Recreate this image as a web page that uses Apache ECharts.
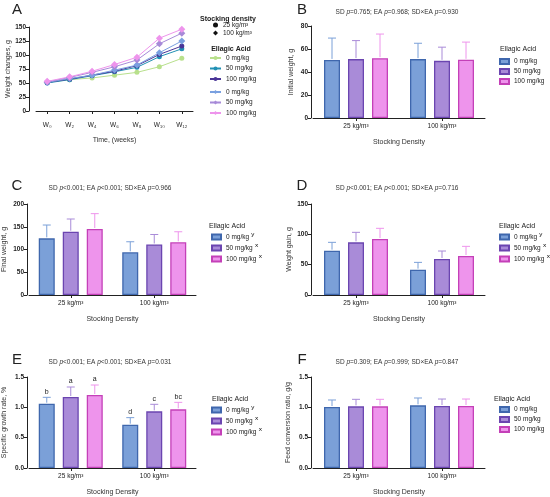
<!DOCTYPE html>
<html>
<head>
<meta charset="utf-8">
<script src="https://cdn.jsdelivr.net/npm/echarts@6.0.0/dist/echarts.min.js"></script>
<style>
  html, body { margin: 0; padding: 0; background: #fff; }
  #main { width: 550px; height: 497px; }
</style>
</head>
<body>
<div id="main"></div>
<script>
const FONT = 'Liberation Sans';

// panel A: weight over time
const weeks = ['W₀', 'W₂', 'W₄', 'W₆', 'W₈', 'W₁₀', 'W₁₂'];
const wt25_0 = [51, 56, 59, 64, 69, 79, 94];
const wt25_50 = [50, 56, 63, 70, 78, 97, 111];
const wt25_100 = [51, 57, 64, 71, 81, 101, 116];
const wt100_0 = [51, 58, 64, 73, 82, 104, 125];
const wt100_50 = [52, 60, 69, 79, 91, 120, 139];
const wt100_100 = [53, 61, 71, 83, 96, 130, 146];

// bar panels
const densities = ['25 kg/m³', '100 kg/m³'];
const doses = ['0 mg/kg', '50 mg/kg', '100 mg/kg'];
const doseSup = ['ʸ', 'ˣ', 'ˣ'];

const initMean0 = [50.5, 51.2], initMean50 = [51.2, 49.7], initMean100 = [52, 50.6];
const initSd0 = [19, 13.8], initSd50 = [16.1, 11.9], initSd100 = [21, 15.4];
const finalMean0 = [124.5, 93.8], finalMean50 = [139, 111], finalMean100 = [145, 115.8];
const finalSd0 = [29.3, 23.2], finalSd50 = [28, 22], finalSd100 = [33.8, 23.2];
const gainMean0 = [73.1, 41.8], gainMean50 = [86.8, 59.3], gainMean100 = [92.3, 64.3];
const gainSd0 = [13.7, 12], gainSd50 = [16.5, 13.2], gainSd100 = [17.6, 15.9];
const sgrMean0 = [1.06, 0.714], sgrMean50 = [1.17, 0.934], sgrMean100 = [1.203, 0.967];
const sgrSd0 = [0.105, 0.116], sgrSd50 = [0.165, 0.116], sgrSd100 = [0.165, 0.115];
const sgrLetters0 = ['b', 'd'], sgrLetters50 = ['a', 'c'], sgrLetters100 = ['a', 'bc'];
const fcrMean0 = [1.005, 1.033], fcrMean50 = [1.016, 1.022], fcrMean100 = [1.016, 1.022];
const fcrSd0 = [0.116, 0.121], fcrSd50 = [0.116, 0.115], fcrSd100 = [0.116, 0.115];

const fills = ['#7ba0d8', '#a98bd8', '#ee94ec'];
const borders = ['#3f67ad', '#6b45b0', '#c440b8'];
const lineCol25 = ['#b8e08c', '#2190b4', '#4a3597'];
const lineCol100 = ['#7aa0e0', '#a78ad8', '#ee94ec'];

const BAR_W = 16, BAR_STEP = 24;

const chart = echarts.init(document.getElementById('main'));

const grids = [], xAxes = [], yAxes = [], series = [], legends = [], graphics = [];

function txt(x, y, text, size, extra) {
  graphics.push({
    type: 'text', x: x, y: y, silent: true,
    style: Object.assign({
      text: text, fill: '#222', fontSize: size, fontFamily: FONT,
      align: 'center', textAlign: 'center', verticalAlign: 'middle', textVerticalAlign: 'middle',
      rich: { i: { fontStyle: 'italic', fontSize: size, fontFamily: FONT, fill: '#333' } }
    }, extra || {})
  });
}

function yAxisOf(gi, max, interval, name, gap, fmt, offset) {
  return {
    type: 'value', gridIndex: gi, min: 0, max: max, interval: interval, offset: offset || 0,
    name: name, nameLocation: 'middle', nameGap: gap,
    nameTextStyle: { fontSize: 7, color: '#333', fontFamily: FONT },
    axisLine: { show: true, lineStyle: { color: '#222', width: 1 } },
    axisTick: { show: true, length: 3, lineStyle: { color: '#222' } },
    splitLine: { show: false },
    axisLabel: { fontSize: 6.5, fontWeight: 'bold', color: '#222', margin: 3, fontFamily: FONT, formatter: fmt }
  };
}

function xAxisOf(gi, data, name, gap, offset) {
  return {
    type: 'category', gridIndex: gi, data: data, offset: offset || 0,
    name: name, nameLocation: 'middle', nameGap: gap,
    nameTextStyle: { fontSize: 7, color: '#333', fontFamily: FONT },
    axisLine: { show: true, lineStyle: { color: '#222', width: 1 } },
    axisTick: { show: true, alignWithLabel: true, length: 3, lineStyle: { color: '#222' } },
    axisLabel: { fontSize: 6.5, color: '#222', margin: 5, fontFamily: FONT, interval: 0 },
    splitLine: { show: false }
  };
}

// ---------- panel A ----------
grids.push({ left: 36, top: 27, width: 157, height: 84 });
xAxes.push(xAxisOf(0, weeks, 'Time, (weeks)', 20, 6));
yAxes.push(yAxisOf(0, 150, 25, 'Weight changes, g', 17, null, 7));

const lines25 = [wt25_0, wt25_50, wt25_100];
const lines100 = [wt100_0, wt100_50, wt100_100];
series.push({ type: 'line', name: '25 kg/m³', xAxisIndex: 0, yAxisIndex: 0, data: [], symbol: 'circle', itemStyle: { color: '#111' } });
series.push({ type: 'line', name: '100 kg/m³', xAxisIndex: 0, yAxisIndex: 0, data: [], symbol: 'diamond', itemStyle: { color: '#111' } });
lines25.forEach((d, k) => series.push({
  type: 'line', name: '25|' + doses[k], xAxisIndex: 0, yAxisIndex: 0, data: d,
  symbol: 'circle', symbolSize: 5, color: lineCol25[k], lineStyle: { width: 1 }
}));
lines100.forEach((d, k) => series.push({
  type: 'line', name: '100|' + doses[k], xAxisIndex: 0, yAxisIndex: 0, data: d,
  symbol: 'diamond', symbolSize: 7, color: lineCol100[k], lineStyle: { width: 1 }
}));

const legText = { fontSize: 6.5, color: '#222', fontFamily: FONT, lineHeight: 8 };
legends.push({
  orient: 'vertical', left: 213, top: 21, padding: 0, itemGap: 0, itemWidth: 5, itemHeight: 5,
  selectedMode: false, textStyle: legText,
  data: [{ name: '25 kg/m³', icon: 'circle' }, { name: '100 kg/m³', icon: 'diamond' }]
});
legends.push({
  orient: 'vertical', left: 209, top: 54, padding: 0, itemGap: 2.5, itemWidth: 11, itemHeight: 5,
  selectedMode: false, textStyle: legText, formatter: n => n.split('|')[1],
  data: doses.map(d => '25|' + d)
});
legends.push({
  orient: 'vertical', left: 209, top: 88, padding: 0, itemGap: 2.5, itemWidth: 11, itemHeight: 5,
  selectedMode: false, textStyle: legText, formatter: n => n.split('|')[1],
  data: doses.map(d => '100|' + d)
});
txt(17, 10, 'A', 15);
txt(228, 19, 'Stocking density', 7, { fontWeight: 'bold' });
txt(231, 49, 'Ellagic Acid', 7, { fontWeight: 'bold' });

// ---------- bar panels ----------
const panels = [
  { letter: 'B', lx: 302, ly: 10, grid: { left: 313, top: 26, width: 172, height: 92 }, yOff: 2,
    max: 80, interval: 20, yName: 'Initial weight, g', yGap: 16,
    means: [initMean0, initMean50, initMean100], sds: [initSd0, initSd50, initSd100],
    title: 'SD {i|p}=0.765; EA {i|p}=0.968; SD×EA {i|p}=0.930', tx: 397, ty: 12,
    hx: 518, hy: 49, legLeft: 499, legTop: 57, sup: false },
  { letter: 'C', lx: 17, ly: 186, grid: { left: 26, top: 204, width: 170, height: 91 }, yOff: 2,
    max: 200, interval: 50, yName: 'Final weight, g', yGap: 19,
    means: [finalMean0, finalMean50, finalMean100], sds: [finalSd0, finalSd50, finalSd100],
    title: 'SD {i|p}<0.001; EA {i|p}<0.001; SD×EA {i|p}=0.966', tx: 110, ty: 188,
    hx: 227, hy: 226, legLeft: 211, legTop: 232, sup: true },
  { letter: 'D', lx: 302, ly: 186, grid: { left: 313, top: 204, width: 172, height: 91 }, yOff: 2,
    max: 150, interval: 50, yName: 'Weight gain, g', yGap: 18,
    means: [gainMean0, gainMean50, gainMean100], sds: [gainSd0, gainSd50, gainSd100],
    title: 'SD {i|p}<0.001; EA {i|p}<0.001; SD×EA {i|p}=0.716', tx: 397, ty: 188,
    hx: 517, hy: 226, legLeft: 499, legTop: 232, sup: true },
  { letter: 'E', lx: 17, ly: 360, grid: { left: 27, top: 377, width: 169, height: 91 }, yOff: 2,
    max: 1.5, interval: 0.5, yName: 'Specific growth rate, %', yGap: 19, fmt: v => v.toFixed(1),
    means: [sgrMean0, sgrMean50, sgrMean100], sds: [sgrSd0, sgrSd50, sgrSd100],
    letters: [sgrLetters0, sgrLetters50, sgrLetters100],
    title: 'SD {i|p}<0.001; EA {i|p}<0.001; SD×EA {i|p}=0.031', tx: 110, ty: 362,
    hx: 230, hy: 399, legLeft: 211, legTop: 405, sup: true },
  { letter: 'F', lx: 302, ly: 360, grid: { left: 313, top: 377, width: 172, height: 91 }, yOff: 2,
    max: 1.5, interval: 0.5, yName: 'Feed conversion ratio, g/g', yGap: 19, fmt: v => v.toFixed(1),
    means: [fcrMean0, fcrMean50, fcrMean100], sds: [fcrSd0, fcrSd50, fcrSd100],
    title: 'SD {i|p}=0.309; EA {i|p}=0.999; SD×EA {i|p}=0.847', tx: 397, ty: 362,
    hx: 512, hy: 399, legLeft: 499, legTop: 405, sup: false }
];

panels.forEach((p, idx) => {
  const gi = idx + 1;
  grids.push(p.grid);
  xAxes.push(xAxisOf(gi, densities, 'Stocking Density', 21));
  yAxes.push(yAxisOf(gi, p.max, p.interval, p.yName, p.yGap, p.fmt, p.yOff));

  p.means.forEach((m, k) => series.push({
    type: 'bar', name: doses[k], xAxisIndex: gi, yAxisIndex: gi, data: m,
    barWidth: BAR_W, barGap: '50%', silent: true,
    itemStyle: { color: fills[k], borderColor: borders[k], borderWidth: 1.3 }
  }));

  const errData = [], labels = [];
  for (let c = 0; c < densities.length; c++) {
    for (let k = 0; k < 3; k++) {
      errData.push([c, k, p.means[k][c], p.means[k][c] + p.sds[k][c]]);
      labels.push(p.letters ? p.letters[k][c] : '');
    }
  }
  series.push({
    type: 'custom', name: 'err' + p.letter, xAxisIndex: gi, yAxisIndex: gi, silent: true, z: 3,
    data: errData, encode: { x: 0, y: [2, 3] },
    renderItem: (params, api) => {
      const c = api.value(0), k = api.value(1);
      const base = api.coord([c, api.value(2)]);
      const top = api.coord([c, api.value(3)]);
      const x = base[0] + (k - 1) * BAR_STEP;
      const col = fills[k];
      const children = [
        { type: 'line', shape: { x1: x, y1: base[1] - 1, x2: x, y2: top[1] }, style: { stroke: col, lineWidth: 1 } },
        { type: 'line', shape: { x1: x - 4, y1: top[1], x2: x + 4, y2: top[1] }, style: { stroke: col, lineWidth: 1 } }
      ];
      const lab = labels[params.dataIndex];
      if (lab) {
        children.push({ type: 'text', x: x, y: top[1] - 2,
          style: { text: lab, fill: '#222', fontSize: 7, fontFamily: FONT,
            align: 'center', textAlign: 'center', verticalAlign: 'bottom', textVerticalAlign: 'bottom' } });
      }
      return { type: 'group', children: children };
    }
  });

  legends.push({
    orient: 'vertical', left: p.legLeft, top: p.legTop, padding: 0, itemGap: 1,
    itemWidth: 9, itemHeight: 5, icon: 'rect', selectedMode: false,
    textStyle: { fontSize: 6.5, color: '#222', fontFamily: FONT, lineHeight: 9,
      rich: { s: { fontSize: 9.5, color: '#222', fontFamily: 'DejaVu Sans', lineHeight: 9 } } },
    formatter: p.sup ? (n => n + ' {s|' + doseSup[doses.indexOf(n)] + '}') : (n => n),
    data: doses
  });

  txt(p.lx, p.ly, p.letter, 15);
  txt(p.tx, p.ty, p.title, 6.5, { fill: '#333' });
  txt(p.hx, p.hy, 'Ellagic Acid', 7);
});

chart.setOption({
  backgroundColor: '#fff',
  animation: false,
  textStyle: { fontFamily: FONT },
  grid: grids,
  xAxis: xAxes,
  yAxis: yAxes,
  legend: legends,
  series: series,
  graphic: graphics
});
</script>
</body>
</html>
